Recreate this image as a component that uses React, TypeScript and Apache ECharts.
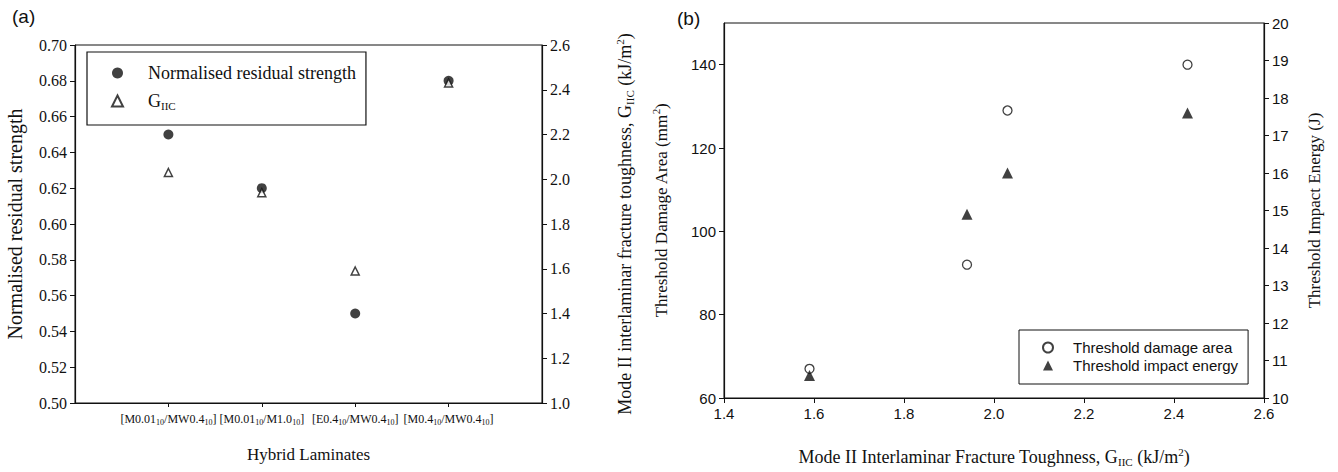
import React, { useEffect, useRef } from 'react';
import * as echarts from 'echarts';

// ---- Data ----
// Panel (a): hybrid laminates (subscripts marked with {s|..})
const laminates = [
  '[M0.01{s|10}/MW0.4{s|10}]',
  '[M0.01{s|10}/M1.0{s|10}]',
  '[E0.4{s|10}/MW0.4{s|10}]',
  '[M0.4{s|10}/MW0.4{s|10}]',
];
const residualStrength = [0.65, 0.62, 0.55, 0.68];
const giicA = [2.03, 1.94, 1.59, 2.43];

// Panel (b)
const giicB = [1.59, 1.94, 2.03, 2.43];
const damageArea = [67, 92, 129, 140];
const impactEnergy = [10.6, 14.9, 16.0, 17.6];

const damageTicks = [60, 80, 100, 120, 140];

const serif = "'Liberation Serif', 'Times New Roman', serif";
const sans = "'Liberation Sans', Arial, sans-serif";
const ink = '#111111';

const subRich = {
  sub: { fontSize: 11, fontFamily: serif, color: ink, padding: [9, 0, 0, 0] },
  sup: { fontSize: 11, fontFamily: serif, color: ink, padding: [0, 0, 11, 0] },
};

export default function App() {
  const ref = useRef<HTMLDivElement>(null);
  useEffect(() => {
    if (!ref.current) return;
    const chart = echarts.init(ref.current, undefined, { renderer: 'svg' });
    const axisLine = { show: true, onZero: false, lineStyle: { color: ink, width: 1.2 } };
    const tick = (len: number, extra: any = {}) => ({
      show: true, inside: false, length: len, lineStyle: { color: ink, width: 1 }, ...extra,
    });
    const option: any = {
      animation: false,
      backgroundColor: '#fff',
      title: [
        { text: '(a)', left: 12, top: 7, padding: 0, textStyle: { fontFamily: sans, fontSize: 19, fontWeight: 'normal', color: ink } },
        { text: '(b)', left: 677, top: 9, padding: 0, textStyle: { fontFamily: sans, fontSize: 19, fontWeight: 'normal', color: ink } },
      ],
      grid: [
        { left: 75, top: 45, width: 467, height: 358, show: true, borderColor: ink, borderWidth: 1, backgroundColor: 'transparent' },
        { left: 724, top: 23, width: 540, height: 379, show: true, borderColor: ink, borderWidth: 1, backgroundColor: 'transparent' },
      ],
      legend: [
        {
          data: ['Normalised residual strength', 'G_IIC'],
          orient: 'vertical', left: 87, top: 52,
          borderColor: ink, borderWidth: 1.2, padding: [12, 10, 14, 24],
          itemWidth: 11, itemHeight: 11, itemGap: 10, selectedMode: false, symbolKeepAspect: true,
          formatter: (n: string) => (n === 'G_IIC' ? 'G{sub|IIC}' : n),
          textStyle: { fontFamily: serif, fontSize: 18, color: ink, padding: [0, 0, 0, 20], rich: subRich },
        },
        {
          data: ['Threshold damage area', 'Threshold impact energy'],
          orient: 'vertical', left: 1019, top: 330,
          borderColor: ink, borderWidth: 1, padding: [10, 10, 11, 23],
          itemWidth: 10, itemHeight: 10, itemGap: 3, selectedMode: false, symbolKeepAspect: true,
          textStyle: { fontFamily: sans, fontSize: 15, color: ink, padding: [0, 0, 0, 15] },
        },
      ],
      xAxis: [
        {
          type: 'value', gridIndex: 0, min: 0, max: 5, interval: 1,
          axisLine, splitLine: { show: false },
          axisTick: tick(4, { customValues: [1, 2, 3, 4] }),
          axisLabel: {
            customValues: [1, 2, 3, 4], margin: 8,
            formatter: (v: number) => laminates[Math.round(v) - 1] || '',
            fontFamily: serif, fontSize: 12, color: ink,
            rich: { s: { fontFamily: serif, fontSize: 8, color: ink, padding: [7, 0, 0, 0] } },
          },
          name: 'Hybrid Laminates', nameLocation: 'middle', nameGap: 43,
          nameTextStyle: { fontFamily: serif, fontSize: 17, color: ink },
        },
        {
          type: 'value', gridIndex: 1, min: 1.4, max: 2.6, interval: 0.2,
          axisLine, splitLine: { show: false }, axisTick: tick(5),
          axisLabel: { formatter: (v: number) => v.toFixed(1), fontFamily: sans, fontSize: 15, color: ink, margin: 8 },
          name: 'Mode II Interlaminar Fracture Toughness, G{sub|IIC} (kJ/m{sup|2})',
          nameLocation: 'middle', nameGap: 48,
          nameTextStyle: { fontFamily: serif, fontSize: 18, color: ink, rich: subRich },
        },
      ],
      yAxis: [
        {
          type: 'value', gridIndex: 0, position: 'left', min: 0.5, max: 0.7, interval: 0.02,
          axisLine, splitLine: { show: false }, axisTick: tick(5),
          axisLabel: { formatter: (v: number) => v.toFixed(2), fontFamily: serif, fontSize: 16, color: ink, margin: 8 },
          name: 'Normalised residual strength', nameLocation: 'middle', nameRotate: 90, nameGap: 50,
          nameTextStyle: { fontFamily: serif, fontSize: 20, color: ink },
        },
        {
          type: 'value', gridIndex: 0, position: 'right', min: 1.0, max: 2.6, interval: 0.2,
          axisLine, splitLine: { show: false }, axisTick: tick(5),
          axisLabel: { formatter: (v: number) => v.toFixed(1), fontFamily: serif, fontSize: 16, color: ink, margin: 8 },
          name: 'Mode II interlaminar fracture toughness, G{sub|IIC} (kJ/m{sup|2})',
          nameLocation: 'middle', nameRotate: 90, nameGap: 72,
          nameTextStyle: { fontFamily: serif, fontSize: 18, color: ink, rich: subRich },
        },
        {
          type: 'value', gridIndex: 1, position: 'left', min: 60, max: 150, interval: 20,
          axisLine, splitLine: { show: false },
          axisTick: tick(5, { customValues: damageTicks }),
          axisLabel: { customValues: damageTicks, fontFamily: sans, fontSize: 15, color: ink, margin: 8 },
          name: 'Threshold Damage Area (mm{sup|2})', nameLocation: 'middle', nameRotate: 90, nameGap: 52,
          nameTextStyle: { fontFamily: serif, fontSize: 17, color: ink, rich: subRich },
        },
        {
          type: 'value', gridIndex: 1, position: 'right', min: 10, max: 20, interval: 1,
          axisLine, splitLine: { show: false }, axisTick: tick(5),
          axisLabel: { fontFamily: sans, fontSize: 15, color: ink, margin: 8 },
          name: 'Threshold Impact Energy (J)', nameLocation: 'middle', nameRotate: 90, nameGap: 42,
          nameTextStyle: { fontFamily: serif, fontSize: 17, color: ink },
        },
      ],
      series: [
        {
          name: 'Normalised residual strength', type: 'scatter', xAxisIndex: 0, yAxisIndex: 0,
          symbol: 'circle', symbolSize: 10, symbolKeepAspect: true, itemStyle: { color: ink },
          data: residualStrength.map((v, i) => [i + 1, v]),
        },
        {
          name: 'G_IIC', type: 'scatter', xAxisIndex: 0, yAxisIndex: 1,
          symbol: 'triangle', symbolSize: 8, symbolKeepAspect: true,
          itemStyle: { color: '#fff', borderColor: ink, borderWidth: 1.5 },
          data: giicA.map((v, i) => [i + 1, v]),
        },
        {
          name: 'Threshold damage area', type: 'scatter', xAxisIndex: 1, yAxisIndex: 2,
          symbol: 'circle', symbolSize: 9, symbolKeepAspect: true,
          itemStyle: { color: '#fff', borderColor: ink, borderWidth: 1.3 },
          data: giicB.map((g, i) => [g, damageArea[i]]),
        },
        {
          name: 'Threshold impact energy', type: 'scatter', xAxisIndex: 1, yAxisIndex: 3,
          symbol: 'triangle', symbolSize: 11, symbolKeepAspect: true, itemStyle: { color: ink },
          data: giicB.map((g, i) => [g, impactEnergy[i]]),
        },
      ],
    };
    chart.setOption(option);
    return () => chart.dispose();
  }, []);
  return <div ref={ref} style={{ position: 'fixed', left: 0, top: 0, width: 1338, height: 472, background: '#fff' }} />;
}
